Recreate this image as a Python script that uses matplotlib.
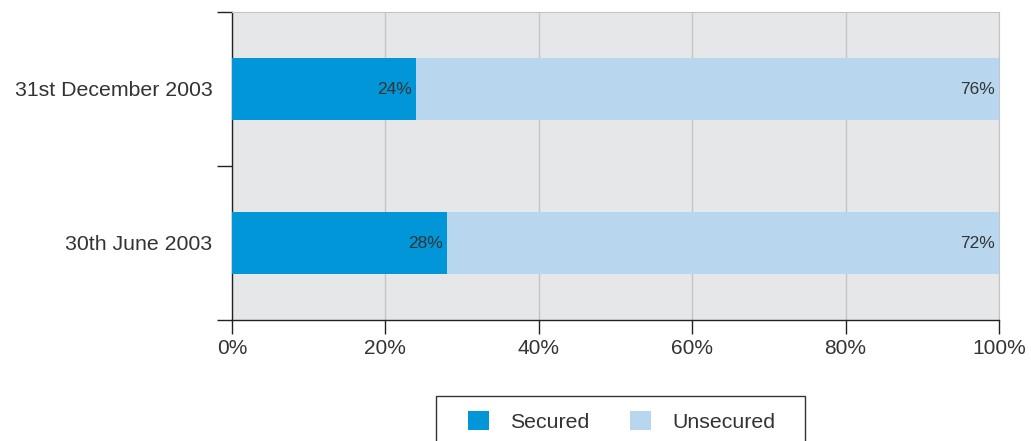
import matplotlib
matplotlib.use("Agg")
import matplotlib.pyplot as plt
from matplotlib.patches import Patch, Rectangle
import numpy as np

categories = ["30th June 2003", "31st December 2003"]
secured = [28, 24]
unsecured = [72, 76]
series_names = ["Secured", "Unsecured"]
x_ticks = [0, 20, 40, 60, 80, 100]
x_tick_labels = ["0%", "20%", "40%", "60%", "80%", "100%"]

c_sec = "#0096d8"
c_uns = "#b8d7ef"
bg = "#e6e7e9"

plt.rcParams["font.family"] = ["Liberation Sans", "DejaVu Sans"]

fig = plt.figure(figsize=(10.31, 4.41), dpi=100)
ax = fig.add_axes([232/1031, 1-320/441, (999-232)/1031, (320-12)/441])
ax.set_facecolor(bg)

ypos = np.arange(len(categories)) + 0.5
h = 0.4
ax.barh(ypos, secured, height=h, color=c_sec, zorder=3)
ax.barh(ypos, unsecured, left=secured, height=h, color=c_uns, zorder=3)

for y, s, u in zip(ypos, secured, unsecured):
    ax.text(s - 0.5, y, f"{s}%", ha="right", va="center", fontsize=12.5, color="#333333", zorder=4)
    ax.text(s + u - 0.5, y, f"{u}%", ha="right", va="center", fontsize=12.5, color="#333333", zorder=4)

ax.set_xlim(0, 100)
ax.set_ylim(0, len(categories))
ax.set_xticks(x_ticks)
ax.set_xticklabels(x_tick_labels, fontsize=15, color="#333333")
ax.set_yticks(ypos)
ax.set_yticklabels(categories, fontsize=15.3, color="#333333")
ax.set_yticks(np.arange(len(categories) + 1), minor=True)
ax.tick_params(axis="y", which="major", length=0, pad=14)
ax.tick_params(axis="y", which="minor", length=11, width=1, color="#222222", direction="out")
ax.tick_params(axis="x", length=10, width=1, color="#222222", direction="out", pad=4)

ax.grid(axis="x", color="#c4c4c4", linewidth=1, zorder=1)
ax.set_axisbelow(True)
for side in ["top", "right"]:
    ax.spines[side].set_color("#c4c4c4")
for side in ["left", "bottom"]:
    ax.spines[side].set_color("#222222")
    ax.spines[side].set_linewidth(1)

handles = [Patch(facecolor=c_sec, edgecolor="none"), Patch(facecolor=c_uns, edgecolor="none")]
leg = fig.legend(handles, series_names, loc="center",
                 bbox_to_anchor=(621.5/1031, 1-421.5/441), ncol=2, frameon=False,
                 fontsize=15.3, handlelength=1.0, handleheight=1.0,
                 columnspacing=1.9, handletextpad=1.0, borderpad=0, borderaxespad=0)
for t in leg.get_texts():
    t.set_color("#333333")

fig.add_artist(Rectangle((436/1031, -0.05), (805-436)/1031, (1-396/441)+0.05,
                         transform=fig.transFigure, fill=False, edgecolor="#333333", lw=1))

fig.savefig("out.png", dpi=100)
